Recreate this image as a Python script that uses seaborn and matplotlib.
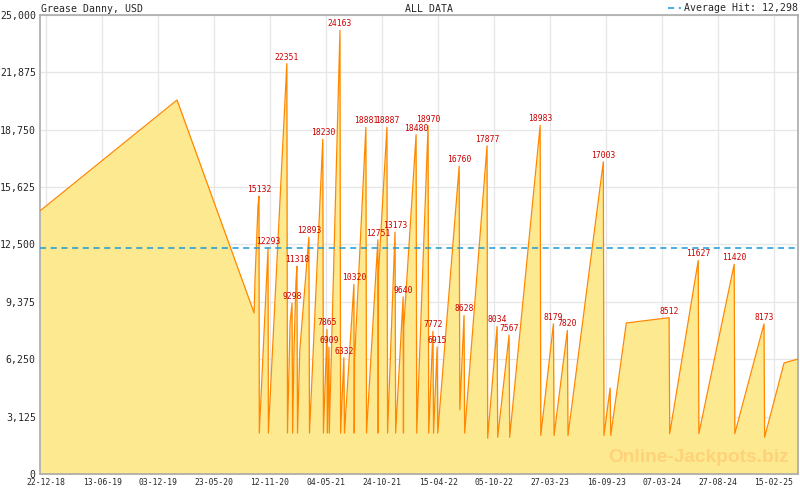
import pandas as pd
import numpy as np
import matplotlib.pyplot as plt
import matplotlib.dates as mdates
from matplotlib.ticker import FuncFormatter, AutoMinorLocator
import seaborn as sns

# ---- data ----
dates = [
    "2018-12-03", "2020-01-30", "2020-09-24", "2020-09-27", "2020-10-03", "2020-10-06",
    "2020-10-09", "2020-10-10", "2020-11-06", "2020-11-07", "2021-01-03", "2021-01-05",
    "2021-01-13", "2021-01-19", "2021-01-21", "2021-01-25", "2021-01-31", "2021-02-03",
    "2021-02-05", "2021-02-12", "2021-03-12", "2021-03-14",
    "2021-04-24", "2021-04-26", "2021-05-07", "2021-05-08", "2021-05-13", "2021-05-14",
    "2021-06-16", "2021-06-18", "2021-06-28", "2021-06-30", "2021-07-29", "2021-07-30",
    "2021-07-31", "2021-09-04", "2021-09-06", "2021-10-11", "2021-10-12", "2021-10-13",
    "2021-11-08", "2021-11-10", "2021-12-03", "2021-12-05", "2021-12-28", "2021-12-29",
    "2021-12-30", "2022-02-06", "2022-02-08",
    "2022-03-15", "2022-03-17", "2022-03-30", "2022-04-01", "2022-04-12", "2022-04-14",
    "2022-06-19", "2022-06-21", "2022-07-04", "2022-07-06", "2022-09-13", "2022-09-15",
    "2022-10-14", "2022-10-16", "2022-11-20", "2022-11-22", "2023-02-24", "2023-02-26",
    "2023-04-06", "2023-04-08", "2023-05-19", "2023-05-21", "2023-09-07", "2023-09-09",
    "2023-09-28", "2023-09-30", "2023-11-17", "2024-03-28", "2024-03-30", "2024-06-26",
    "2024-06-28", "2024-10-15", "2024-10-17", "2025-01-15", "2025-01-17", "2025-03-18",
    "2025-04-30",
]
values = [
    14330, 20370, 8770, 10700, 13300, 14600,
    15132, 2230, 12293, 2230, 22351, 2230,
    8200, 9298, 2230, 6600, 10400, 11318,
    2230, 6750, 12893, 2230,
    18230, 2230, 7865, 2230, 6909, 2230,
    24163, 2230, 6332, 2230, 10320, 2230,
    6200, 18881, 2230, 12751, 2230, 10900,
    18887, 2230, 13173, 2230, 9640, 2230,
    8000, 18480, 2230,
    18970, 2230, 7772, 2230, 6915, 2230,
    16760, 3500, 8628, 2230, 17877, 1950,
    8034, 2000, 7567, 2000, 18983, 2100,
    8179, 2100, 7820, 2100, 17003, 2100,
    4680, 2100, 8225, 8512, 2200, 11627,
    2200, 11420, 2200, 8173, 2000, 6050,
    6260,
]

# labelled hits
peak_dates = [
    "2020-10-09", "2020-11-06", "2021-01-03", "2021-01-19", "2021-02-03", "2021-03-12",
    "2021-04-24", "2021-05-07", "2021-05-13", "2021-06-16", "2021-06-28", "2021-07-29",
    "2021-09-04", "2021-10-11", "2021-11-08", "2021-12-03", "2021-12-28", "2022-02-06",
    "2022-03-15", "2022-03-30", "2022-04-12", "2022-06-19", "2022-07-04", "2022-09-13",
    "2022-10-14", "2022-11-20", "2023-02-24", "2023-04-06", "2023-05-19", "2023-09-07",
    "2024-03-28", "2024-06-26", "2024-10-15", "2025-01-15",
]
peak_values = [
    15132, 12293, 22351, 9298, 11318, 12893,
    18230, 7865, 6909, 24163, 6332, 10320,
    18881, 12751, 18887, 13173, 9640, 18480,
    18970, 7772, 6915, 16760, 8628, 17877,
    8034, 7567, 18983, 8179, 7820, 17003,
    8512, 11627, 11420, 8173,
]

average_hit = 12298
x_ticks = ["2018-12-22", "2019-06-13", "2019-12-03", "2020-05-23", "2020-11-12",
           "2021-05-04", "2021-10-24", "2022-04-15", "2022-10-05", "2023-03-27",
           "2023-09-16", "2024-03-07", "2024-08-27", "2025-02-15"]
y_ticks = [0, 3125, 6250, 9375, 12500, 15625, 18750, 21875, 25000]

df = pd.DataFrame({"date": pd.to_datetime(dates), "value": values})

# ---- plot ----
sns.set_style("white")
plt.rcParams["font.family"] = ["DejaVu Sans Mono"]

fig = plt.figure(figsize=(8, 4.9), dpi=100)
ax = fig.add_axes([0.05, 0.0327, 0.9475, 0.9367])

ax.fill_between(df["date"], df["value"], 0, color="#fde98f", linewidth=0, zorder=2)
sns.lineplot(data=df, x="date", y="value", ax=ax, color="#ff8800",
             linewidth=0.9, zorder=3, estimator=None, sort=False)

ax.axhline(average_hit, color="#1a9ad6", linestyle=(0, (4, 3)), linewidth=1.1,
           zorder=4, label="Average Hit: 12,298")

for d, v in zip(pd.to_datetime(peak_dates), peak_values):
    ax.annotate(str(v), (d, v), xytext=(0, 1.5), textcoords="offset points",
                ha="center", va="bottom", color="#cc0000", fontsize=5.8, zorder=5)

ax.set_xlim(pd.Timestamp("2018-12-03"), pd.Timestamp("2025-04-30"))
ax.set_ylim(0, 25000)

ax.set_xticks(pd.to_datetime(x_ticks))
ax.xaxis.set_major_formatter(mdates.DateFormatter("%d-%m-%y"))
ax.xaxis.set_minor_locator(AutoMinorLocator(7))
ax.set_yticks(y_ticks)
ax.yaxis.set_major_formatter(FuncFormatter(lambda v, p: f"{v:,.0f}"))

ax.tick_params(axis="x", which="major", direction="in", length=4, width=0.8,
               color="#aaaaaa", labelsize=5.8, pad=3, bottom=True)
ax.tick_params(axis="x", which="minor", direction="in", length=2.2, width=0.8,
               color="#aaaaaa", bottom=True)
ax.tick_params(axis="y", length=0, labelsize=7.1, pad=3)

ax.grid(True, color="#e6e6e6", linewidth=0.9, zorder=0)
ax.set_axisbelow(True)
for s in ax.spines.values():
    s.set_color("#aaaaaa")
    s.set_linewidth(1.2)

ax.set_xlabel("")
ax.set_ylabel("")

fig.text(0.051, 0.992, "Grease Danny, USD", fontsize=7.1, ha="left", va="top")
fig.text(0.536, 0.992, "ALL DATA", fontsize=7.1, ha="center", va="top")
ax.legend(loc="lower right", bbox_to_anchor=(1.003, 1.0), frameon=False,
          fontsize=7.1, handlelength=1.4, handletextpad=0.3, borderpad=0.1,
          borderaxespad=0.1)

ax.text(0.988, 0.018, "Online-Jackpots.biz", transform=ax.transAxes, ha="right",
        va="bottom", fontsize=13.8, fontweight="bold", color="#ffd27a",
        family="Liberation Sans", zorder=2.5)

fig.savefig("out.png", dpi=100)
